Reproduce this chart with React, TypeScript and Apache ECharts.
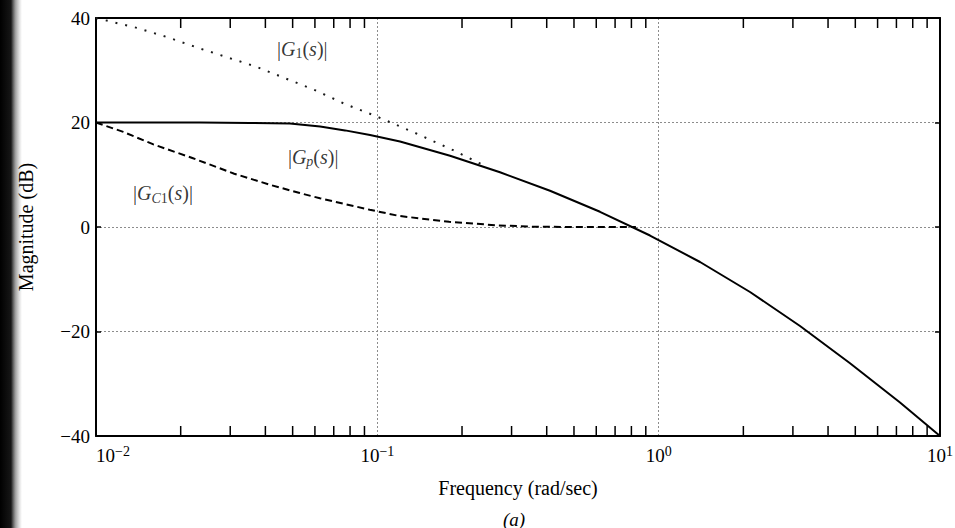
import React, { useEffect, useRef } from 'react';
import * as echarts from 'echarts';

// ---- data ----
const freqGp = [0.01, 0.0234, 0.0353, 0.0489, 0.0626, 0.0768, 0.0942, 0.1204, 0.1813, 0.2729, 0.4109, 0.6186, 0.9317, 1.403, 2.112, 3.18, 4.788, 7.209, 10];
const magGp = [20, 19.98, 19.92, 19.81, 19.23, 18.49, 17.61, 16.36, 13.63, 10.47, 6.93, 2.91, -1.63, -6.7, -12.44, -18.95, -26.09, -33.59, -40];

const freqGc1 = [0.01, 0.0125, 0.016, 0.022, 0.031, 0.042, 0.053, 0.0625, 0.094, 0.12, 0.18, 0.27, 0.36, 0.5, 0.83];
const magGc1 = [20, 18.2, 15.8, 13.2, 10.2, 8.0, 6.5, 5.5, 3.3, 2.1, 1.0, 0.3, 0.05, 0, 0];

const freqG1 = [0.01, 0.014, 0.018, 0.023, 0.037, 0.06, 0.077, 0.098, 0.135, 0.186, 0.235];
const magG1 = [40, 38.1, 36.3, 34.3, 30.7, 26.2, 23.5, 21.3, 18.1, 14.7, 12.0];

const minorTickFreqs = [
  0.02, 0.03, 0.04, 0.05, 0.06, 0.07, 0.08, 0.09,
  0.2, 0.3, 0.4, 0.5, 0.6, 0.7, 0.8, 0.9,
  2, 3, 4, 5, 6, 7, 8, 9,
];

const curveLabels = [
  { name: 'G1', freq: 0.044, mag: 34.1, text: '{n||}{i|G}{sub|1}{n|(}{i|s}{n|)|}' },
  { name: 'Gp', freq: 0.0481, mag: 13.4, text: '{n||}{i|G}{subi|p}{n|(}{i|s}{n|)|}' },
  { name: 'GC1', freq: 0.01354, mag: 6.5, text: '{n||}{i|G}{subi|C}{sub|1}{n|(}{i|s}{n|)|}' },
];

const X_MIN = 0.01;
const X_MAX = 10;
const Y_MIN = -40;
const Y_MAX = 40;
const Y_STEP = 20;

const SERIF = '"Liberation Serif", "Times New Roman", Times, serif';

const pairs = (xs: number[], ys: number[]) => xs.map((x, i) => [x, ys[i]]);

export default function App() {
  const ref = useRef<HTMLDivElement>(null);

  useEffect(() => {
    if (!ref.current) return;
    const chart = echarts.init(ref.current, undefined, { renderer: 'svg' });

    const base = { fontFamily: SERIF, color: '#000', textBorderWidth: 0, textBorderColor: 'transparent' };
    const labelRich = {
      n: { ...base, fontSize: 20, lineHeight: 24 },
      i: { ...base, fontSize: 20, fontStyle: 'italic', lineHeight: 24 },
      sub: { ...base, fontSize: 14, verticalAlign: 'bottom', lineHeight: 15 },
      subi: { ...base, fontSize: 14, fontStyle: 'italic', verticalAlign: 'bottom', lineHeight: 15 },
    };

    const option: any = {
      animation: false,
      backgroundColor: '#fff',
      grid: { left: 96, right: 15, top: 18, bottom: 92, containLabel: false, outerBoundsMode: 'none' },
      xAxis: [
        {
          type: 'log',
          logBase: 10,
          min: X_MIN,
          max: X_MAX,
          axisLine: { show: true, onZero: false, lineStyle: { color: '#000', width: 2 } },
          axisTick: { show: false },
          minorTick: { show: false },
          splitLine: { show: true, lineStyle: { color: '#8c8c8c', width: 1, type: [2, 2] } },
          axisLabel: {
            margin: 8,
            showMinLabel: true,
            showMaxLabel: true,
            alignMinLabel: 'left',
            formatter: (v: number) => {
              const e = Math.round(Math.log10(v));
              return `{b|10}{s|${e < 0 ? '\u2212' + -e : e}}`;
            },
            rich: {
              b: { fontSize: 19, fontFamily: SERIF, color: '#000', lineHeight: 22 },
              s: { fontSize: 14, fontFamily: SERIF, color: '#000', verticalAlign: 'top', lineHeight: 13 },
            },
          },
          name: 'Frequency (rad/sec)',
          nameLocation: 'middle',
          nameGap: 42,
          nameTextStyle: { fontSize: 20, fontFamily: SERIF, color: '#000' },
        },
        {
          type: 'log',
          logBase: 10,
          min: X_MIN,
          max: X_MAX,
          position: 'top',
          axisLine: { show: true, onZero: false, lineStyle: { color: '#000', width: 2 } },
          axisTick: { show: false },
          axisLabel: { show: false },
          splitLine: { show: false },
        },
      ],
      yAxis: [
        {
          type: 'value',
          min: Y_MIN,
          max: Y_MAX,
          interval: Y_STEP,
          axisLine: { show: true, onZero: false, lineStyle: { color: '#000', width: 2 } },
          axisTick: { show: true, inside: true, length: 5, lineStyle: { color: '#000', width: 1.5 } },
          splitLine: { show: true, lineStyle: { color: '#8c8c8c', width: 1, type: [2, 2] } },
          axisLabel: {
            margin: 6,
            fontSize: 19,
            fontFamily: SERIF,
            color: '#000',
            formatter: (v: number) => (v < 0 ? '\u2212' + -v : String(v)),
          },
          name: 'Magnitude (dB)',
          nameLocation: 'middle',
          nameGap: 60,
          nameRotate: 90,
          nameTextStyle: { fontSize: 20, fontFamily: SERIF, color: '#000' },
        },
        {
          type: 'value',
          min: Y_MIN,
          max: Y_MAX,
          interval: Y_STEP,
          position: 'right',
          axisLine: { show: true, onZero: false, lineStyle: { color: '#000', width: 2 } },
          axisTick: { show: true, inside: true, length: 5, lineStyle: { color: '#000', width: 1.5 } },
          axisLabel: { show: false },
          splitLine: { show: false },
        },
      ],
      series: [
        {
          name: '|G1(s)|',
          type: 'line',
          data: pairs(freqG1, magG1),
          showSymbol: false,
          symbol: 'none',
          lineStyle: { color: '#1a1a1a', width: 2, type: [2, 8] },
          z: 3,
        },
        {
          name: '|GC1(s)|',
          type: 'line',
          data: pairs(freqGc1, magGc1),
          showSymbol: false,
          symbol: 'none',
          lineStyle: { color: '#000', width: 2, type: [7, 4] },
          z: 3,
        },
        {
          name: '|Gp(s)|',
          type: 'line',
          data: pairs(freqGp, magGp),
          showSymbol: false,
          symbol: 'none',
          lineStyle: { color: '#000', width: 2 },
          z: 4,
        },
        {
          name: 'minor ticks',
          type: 'custom',
          data: minorTickFreqs.map((f) => [f, 0]),
          silent: true,
          z: 5,
          renderItem: (params: any, api: any) => {
            const x = api.value(0);
            const b = api.coord([x, Y_MIN]);
            const t = api.coord([x, Y_MAX]);
            return {
              type: 'group',
              children: [
                { type: 'line', shape: { x1: b[0], y1: b[1], x2: b[0], y2: b[1] - 10 }, style: { stroke: '#000', lineWidth: 1.5 } },
                { type: 'line', shape: { x1: t[0], y1: t[1], x2: t[0], y2: t[1] + 10 }, style: { stroke: '#000', lineWidth: 1.5 } },
              ],
            };
          },
        },
        {
          name: 'curve labels',
          type: 'scatter',
          symbolSize: 0,
          silent: true,
          z: 6,
          itemStyle: { color: '#000' },
          data: curveLabels.map((c) => ({
            value: [c.freq, c.mag],
            label: {
              show: true,
              position: [0, 0],
              align: 'left',
              verticalAlign: 'middle',
              color: '#000',
              textBorderWidth: 0,
              formatter: c.text,
              rich: labelRich,
            },
          })),
        },
      ],
      graphic: [
        {
          type: 'rect',
          left: 0,
          top: 0,
          shape: { x: 0, y: 0, width: 22, height: 528 },
          style: {
            fill: new echarts.graphic.LinearGradient(0, 0, 1, 0, [
              { offset: 0, color: 'rgba(0,0,0,1)' },
              { offset: 0.5, color: 'rgba(10,10,10,0.95)' },
              { offset: 0.7, color: 'rgba(60,60,60,0.5)' },
              { offset: 1, color: 'rgba(120,120,120,0)' },
            ]),
          },
          silent: true,
        },
        {
          type: 'text',
          x: 514,
          y: 519,
          style: {
            text: '(a)',
            fontSize: 19,
            fontFamily: SERIF,
            fontStyle: 'italic',
            fill: '#000',
            align: 'center',
            verticalAlign: 'middle',
          },
          silent: true,
        },
      ],
    };

    chart.setOption(option);
    return () => chart.dispose();
  }, []);

  return (
    <div
      ref={ref}
      style={{ position: 'fixed', left: 0, top: 0, width: 955, height: 528, background: '#fff' }}
    />
  );
}
